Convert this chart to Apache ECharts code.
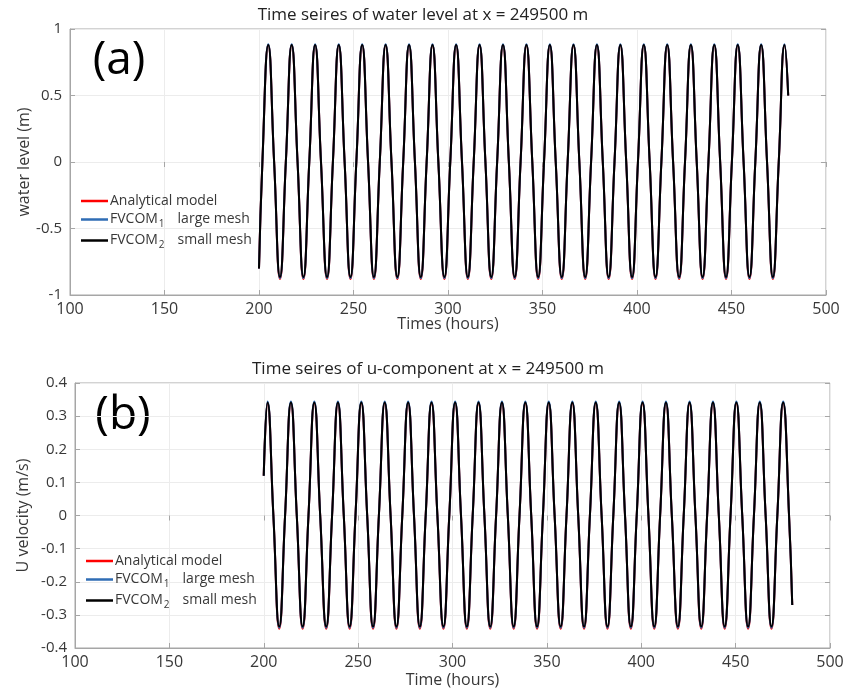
<!DOCTYPE html>
<html><head><meta charset="utf-8">
<script src="https://cdn.jsdelivr.net/npm/echarts@6/dist/echarts.min.js"></script>
<style>html,body{margin:0;padding:0;background:#fff}#c{width:848px;height:694px}</style>
</head><body><div id="c"></div>
<script>
// ---------- Panel (a): water level (m) ----------
const aStart = [200, -0.80];
const aEnd = [480, 0.50];
const aPeakTimes = [204.9, 217.3, 229.7, 242.2, 254.6, 267.0, 279.4, 291.8, 304.3, 316.7, 329.1, 341.5, 353.9, 366.4, 378.8, 391.2, 403.6, 416.0, 428.5, 440.9, 453.3, 465.7, 478.1];
const aTroughTimes = [211.1, 223.5, 236.0, 248.4, 260.8, 273.2, 285.6, 298.1, 310.5, 322.9, 335.3, 347.7, 360.2, 372.6, 385.0, 397.4, 409.8, 422.3, 434.7, 447.1, 459.5, 471.9];
const aZeroTimes = [201.8, 208.0, 214.2, 220.4, 226.6, 232.8, 239.1, 245.3, 251.5, 257.7, 263.9, 270.1, 276.3, 282.5, 288.7, 294.9, 301.2, 307.4, 313.6, 319.8, 326.0, 332.2, 338.4, 344.6, 350.8, 357.0, 363.3, 369.5, 375.7, 381.9, 388.1, 394.3, 400.5, 406.7, 412.9, 419.1, 425.4, 431.6, 437.8, 444.0, 450.2, 456.4, 462.6, 468.8, 475.0];
const aPeakAnalytical = [0.88,0.88,0.88,0.88,0.88,0.88,0.88,0.88,0.88,0.88,0.88,0.88,0.88,0.88,0.88,0.88,0.88,0.88,0.88,0.88,0.88,0.88,0.88];
const aPeakLarge = [0.885,0.885,0.885,0.885,0.885,0.885,0.885,0.885,0.885,0.885,0.885,0.885,0.885,0.885,0.885,0.885,0.885,0.885,0.885,0.885,0.885,0.885,0.885];
const aPeakSmall = [0.88,0.88,0.88,0.88,0.88,0.88,0.88,0.88,0.88,0.88,0.88,0.88,0.88,0.88,0.88,0.88,0.88,0.88,0.88,0.88,0.88,0.88,0.88];
const aTroughAnalytical = [-0.88,-0.88,-0.88,-0.88,-0.88,-0.88,-0.88,-0.88,-0.88,-0.88,-0.88,-0.88,-0.88,-0.88,-0.88,-0.88,-0.88,-0.88,-0.88,-0.88,-0.88,-0.88];
const aTroughLarge = [-0.873,-0.873,-0.873,-0.873,-0.873,-0.873,-0.873,-0.873,-0.873,-0.873,-0.873,-0.873,-0.873,-0.873,-0.873,-0.873,-0.873,-0.873,-0.873,-0.873,-0.873,-0.873];
const aTroughSmall = [-0.865,-0.865,-0.865,-0.865,-0.865,-0.865,-0.865,-0.865,-0.865,-0.865,-0.865,-0.865,-0.865,-0.865,-0.865,-0.865,-0.865,-0.865,-0.865,-0.865,-0.865,-0.865];

// ---------- Panel (b): U velocity (m/s) ----------
const bStart = [200, 0.12];
const bEnd = [480, -0.27];
const bPeakTimes = [202.0, 214.4, 226.8, 239.3, 251.7, 264.1, 276.5, 288.9, 301.4, 313.8, 326.2, 338.6, 351.0, 363.5, 375.9, 388.3, 400.7, 413.1, 425.6, 438.0, 450.4, 462.8, 475.2];
const bTroughTimes = [208.2, 220.6, 233.1, 245.5, 257.9, 270.3, 282.7, 295.2, 307.6, 320.0, 332.4, 344.8, 357.3, 369.7, 382.1, 394.5, 406.9, 419.4, 431.8, 444.2, 456.6, 469.0];
const bZeroTimes = [205.1, 211.3, 217.5, 223.7, 229.9, 236.2, 242.4, 248.6, 254.8, 261.0, 267.2, 273.4, 279.6, 285.8, 292.0, 298.3, 304.5, 310.7, 316.9, 323.1, 329.3, 335.5, 341.7, 347.9, 354.1, 360.4, 366.6, 372.8, 379.0, 385.2, 391.4, 397.6, 403.8, 410.0, 416.2, 422.5, 428.7, 434.9, 441.1, 447.3, 453.5, 459.7, 465.9, 472.1, 478.3];
const bPeakAnalytical = [0.34,0.34,0.34,0.34,0.34,0.34,0.34,0.34,0.34,0.34,0.34,0.34,0.34,0.34,0.34,0.34,0.34,0.34,0.34,0.34,0.34,0.34,0.34];
const bPeakLarge = [0.344,0.344,0.344,0.344,0.344,0.344,0.344,0.344,0.344,0.344,0.344,0.344,0.344,0.344,0.344,0.344,0.344,0.344,0.344,0.344,0.344,0.344,0.344];
const bPeakSmall = [0.341,0.341,0.341,0.341,0.341,0.341,0.341,0.341,0.341,0.341,0.341,0.341,0.341,0.341,0.341,0.341,0.341,0.341,0.341,0.341,0.341,0.341,0.341];
const bTroughAnalytical = [-0.342,-0.342,-0.342,-0.342,-0.342,-0.342,-0.342,-0.342,-0.342,-0.342,-0.342,-0.342,-0.342,-0.342,-0.342,-0.342,-0.342,-0.342,-0.342,-0.342,-0.342,-0.342];
const bTroughLarge = [-0.339,-0.339,-0.339,-0.339,-0.339,-0.339,-0.339,-0.339,-0.339,-0.339,-0.339,-0.339,-0.339,-0.339,-0.339,-0.339,-0.339,-0.339,-0.339,-0.339,-0.339,-0.339];
const bTroughSmall = [-0.335,-0.335,-0.335,-0.335,-0.335,-0.335,-0.335,-0.335,-0.335,-0.335,-0.335,-0.335,-0.335,-0.335,-0.335,-0.335,-0.335,-0.335,-0.335,-0.335,-0.335,-0.335];

const seriesNames = ['Analytical model', 'FVCOM1', 'FVCOM2'];
const seriesColors = ['#ff0000', '#2f6db5', '#000000'];
const xTickMin = 100, xTickMax = 500, xTickStep = 50;

function build(start, end, zeros, peakT, peakV, troughT, troughV) {
  const pts = [start.slice()];
  zeros.forEach(t => pts.push([t, 0]));
  peakT.forEach((t, i) => pts.push([t, peakV[i]]));
  troughT.forEach((t, i) => pts.push([t, troughV[i]]));
  pts.push(end.slice());
  pts.sort((p, q) => p[0] - q[0]);
  return pts;
}

const FONT = 'Open Sans';
const TXT = '#383838';
const FRAME = '#a6a6a6';
const GRIDLINE = '#ececec';

function xAx(grid, name, gap) {
  return [{
    type: 'value', gridIndex: grid, position: 'bottom', min: xTickMin, max: xTickMax, interval: xTickStep,
    axisLine: {show: true, onZero: false, lineStyle: {color: FRAME}},
    axisTick: {show: true, inside: true, length: 5, lineStyle: {color: FRAME}},
    axisLabel: {color: TXT, fontSize: 16, fontFamily: FONT, margin: 6},
    splitLine: {show: true, lineStyle: {color: GRIDLINE}},
    name: name, nameLocation: 'middle', nameGap: gap, nameMoveOverlap: false,
    nameTextStyle: {color: TXT, fontSize: 16, fontFamily: FONT}
  }, {
    type: 'value', gridIndex: grid, position: 'top', min: xTickMin, max: xTickMax, interval: xTickStep,
    axisLine: {show: false}, axisLabel: {show: false}, splitLine: {show: false},
    axisTick: {show: true, inside: true, length: 5, lineStyle: {color: FRAME}}
  }];
}
function yAx(grid, min, max, step, name, gap, fmt) {
  return [{
    type: 'value', gridIndex: grid, position: 'left', min: min, max: max, interval: step,
    axisLine: {show: true, onZero: false, lineStyle: {color: FRAME}},
    axisTick: {show: true, inside: true, length: 5, lineStyle: {color: FRAME}},
    axisLabel: {color: TXT, fontSize: 15, fontFamily: FONT, margin: 8, formatter: fmt},
    splitLine: {show: true, lineStyle: {color: GRIDLINE}},
    name: name, nameLocation: 'middle', nameGap: gap, nameMoveOverlap: false,
    nameTextStyle: {color: TXT, fontSize: 16, fontFamily: FONT}
  }, {
    type: 'value', gridIndex: grid, position: 'right', min: min, max: max, interval: step,
    axisLine: {show: false}, axisLabel: {show: false}, splitLine: {show: false},
    axisTick: {show: true, inside: true, length: 5, lineStyle: {color: FRAME}}
  }];
}

const aData = [
  build(aStart, aEnd, aZeroTimes, aPeakTimes, aPeakAnalytical, aTroughTimes, aTroughAnalytical),
  build(aStart, aEnd, aZeroTimes, aPeakTimes, aPeakLarge, aTroughTimes, aTroughLarge),
  build(aStart, aEnd, aZeroTimes, aPeakTimes, aPeakSmall, aTroughTimes, aTroughSmall)
];
const bData = [
  build(bStart, bEnd, bZeroTimes, bPeakTimes, bPeakAnalytical, bTroughTimes, bTroughAnalytical),
  build(bStart, bEnd, bZeroTimes, bPeakTimes, bPeakLarge, bTroughTimes, bTroughLarge),
  build(bStart, bEnd, bZeroTimes, bPeakTimes, bPeakSmall, bTroughTimes, bTroughSmall)
];

const series = [];
[aData, bData].forEach((set, p) => {
  set.forEach((d, i) => {
    series.push({
      type: 'line', name: seriesNames[i], xAxisIndex: p * 2, yAxisIndex: p * 2,
      data: d, smooth: 0.5, showSymbol: false, symbol: 'none',
      lineStyle: {color: seriesColors[i], width: 2}, itemStyle: {color: seriesColors[i]},
      emphasis: {disabled: true}, animation: false, z: 2 + i
    });
  });
});

function legendFmt(name) {
  if (name === 'FVCOM1') return '{t|FVCOM}{s|1}{g|}{t|large mesh}';
  if (name === 'FVCOM2') return '{t|FVCOM}{s|2}{g|}{t|small mesh}';
  return '{t|' + name + '}';
}
function legend(left, top) {
  return {
    data: seriesNames, left: left, top: top, orient: 'vertical', itemGap: 2,
    icon: 'rect', itemWidth: 27, itemHeight: 2.5, selectedMode: false,
    formatter: legendFmt,
    textStyle: {
      color: TXT, fontFamily: FONT, fontSize: 14, padding: [0, 0, 0, -3],
      rich: {
        t: {fontSize: 14, fontFamily: FONT, color: TXT, lineHeight: 20},
        s: {fontSize: 10, fontFamily: FONT, color: TXT, padding: [9, 0, 0, 1], lineHeight: 20},
        g: {width: 13}
      }
    }
  };
}

const chart = echarts.init(document.getElementById('c'), null, {renderer: 'canvas'});
chart.setOption({
  animation: false,
  backgroundColor: '#ffffff',
  grid: [
    {left: 70, right: 22, top: 29, bottom: 399, show: true, borderColor: FRAME, borderWidth: 1, containLabel: false},
    {left: 75, right: 18, top: 383, bottom: 46, show: true, borderColor: FRAME, borderWidth: 1, containLabel: false}
  ],
  xAxis: [].concat(xAx(0, 'Times (hours)', 21), xAx(1, 'Time (hours)', 24)),
  yAxis: [].concat(
    yAx(0, -1, 1, 0.5, 'water level (m)', 38, v => String(v)),
    yAx(1, -0.4, 0.4, 0.1, 'U velocity (m/s)', 44, v => String(Math.round(v * 10) / 10))
  ),
  legend: [legend(76, 189), legend(81, 549)],
  graphic: [
    {type: 'text', x: 423, y: 15, style: {text: 'Time seires of water level at x = 249500 m', fill: '#222', fontSize: 17, fontFamily: FONT, textAlign: 'center', textVerticalAlign: 'middle'}},
    {type: 'text', x: 428, y: 369, style: {text: 'Time seires of u-component at x = 249500 m', fill: '#222', fontSize: 17, fontFamily: FONT, textAlign: 'center', textVerticalAlign: 'middle'}},
    {type: 'text', x: 119, y: 61, style: {text: '(a)', fill: '#000', fontSize: 46, fontFamily: FONT, textAlign: 'center', textVerticalAlign: 'middle'}},
    {type: 'text', x: 123, y: 416, style: {text: '(b)', fill: '#000', fontSize: 46, fontFamily: FONT, textAlign: 'center', textVerticalAlign: 'middle'}}
  ],
  series: series
});
</script>
</body></html>
